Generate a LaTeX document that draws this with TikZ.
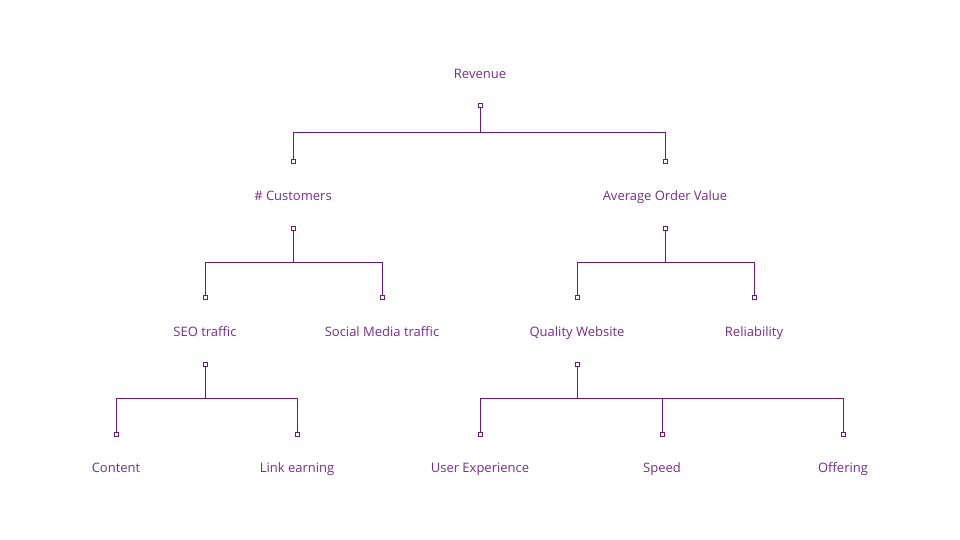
\documentclass[tikz,border=0pt]{standalone}
\usepackage{fontspec}
\setmainfont{Open Sans}
\definecolor{txt}{HTML}{7A2C8C}
\definecolor{ln}{HTML}{6A1B7A}
\begin{document}
\begin{tikzpicture}[x=1pt,y=-1pt,
  lbl/.style={text=txt,font=\fontsize{13}{15}\selectfont,inner sep=0pt,anchor=base},
  port/.style={draw=ln,fill=white,line width=0.8pt,minimum size=4pt,inner sep=0pt,rectangle},
  wire/.style={draw=ln,line width=1pt}]
\useasboundingbox (0,0) rectangle (960,540);
% labels (baseline positions)
\node[lbl] (rev) at (480,78.5) {Revenue};
\node[lbl] (cus) at (293,200.5) {\# Customers};
\node[lbl] (aov) at (665,200.5) {Average Order Value};
\node[lbl] (seo) at (205,336.5) {SEO traffic};
\node[lbl] (soc) at (382,336.5) {Social Media traffic};
\node[lbl] (qw) at (577,336.5) {Quality Website};
\node[lbl] (rel) at (754,336.5) {Reliability};
\node[lbl] (con) at (116,472.5) {Content};
\node[lbl] (lnk) at (297,472.5) {Link earning};
\node[lbl] (ux) at (480,472.5) {User Experience};
\node[lbl] (spd) at (662,472.5) {Speed};
\node[lbl] (off) at (843,472.5) {Offering};
% port squares
\foreach \n/\x/\y in {ro/480/105, ci/293/161, ai/665/161,
  co/293/228, si/205/297, mi/382/297,
  ao/665/228, qi/577/297, li/754/297,
  so/205/364, ti/116/434, ki/297/434,
  qo/577/364, ui/480/434, pi/662/434, fi/843/434}
  \node[port] (\n) at (\x,\y) {};
% junctions
\coordinate (revb) at (480,133);
\coordinate (cusb) at (293,262);
\coordinate (aovb) at (665,262);
\coordinate (seob) at (205,398);
\coordinate (qwb) at (577,398);
% wires
\draw[wire] (ro.south) -- (revb);
\draw[wire] (revb) -| (ci.north);
\draw[wire] (revb) -| (ai.north);
\draw[wire] (co.south) -- (cusb);
\draw[wire] (cusb) -| (si.north);
\draw[wire] (cusb) -| (mi.north);
\draw[wire] (ao.south) -- (aovb);
\draw[wire] (aovb) -| (qi.north);
\draw[wire] (aovb) -| (li.north);
\draw[wire] (so.south) -- (seob);
\draw[wire] (seob) -| (ti.north);
\draw[wire] (seob) -| (ki.north);
\draw[wire] (qo.south) -- (qwb);
\draw[wire] (qwb) -| (ui.north);
\draw[wire] (qwb) -| (pi.north);
\draw[wire] (qwb) -| (fi.north);
\end{tikzpicture}
\end{document}
